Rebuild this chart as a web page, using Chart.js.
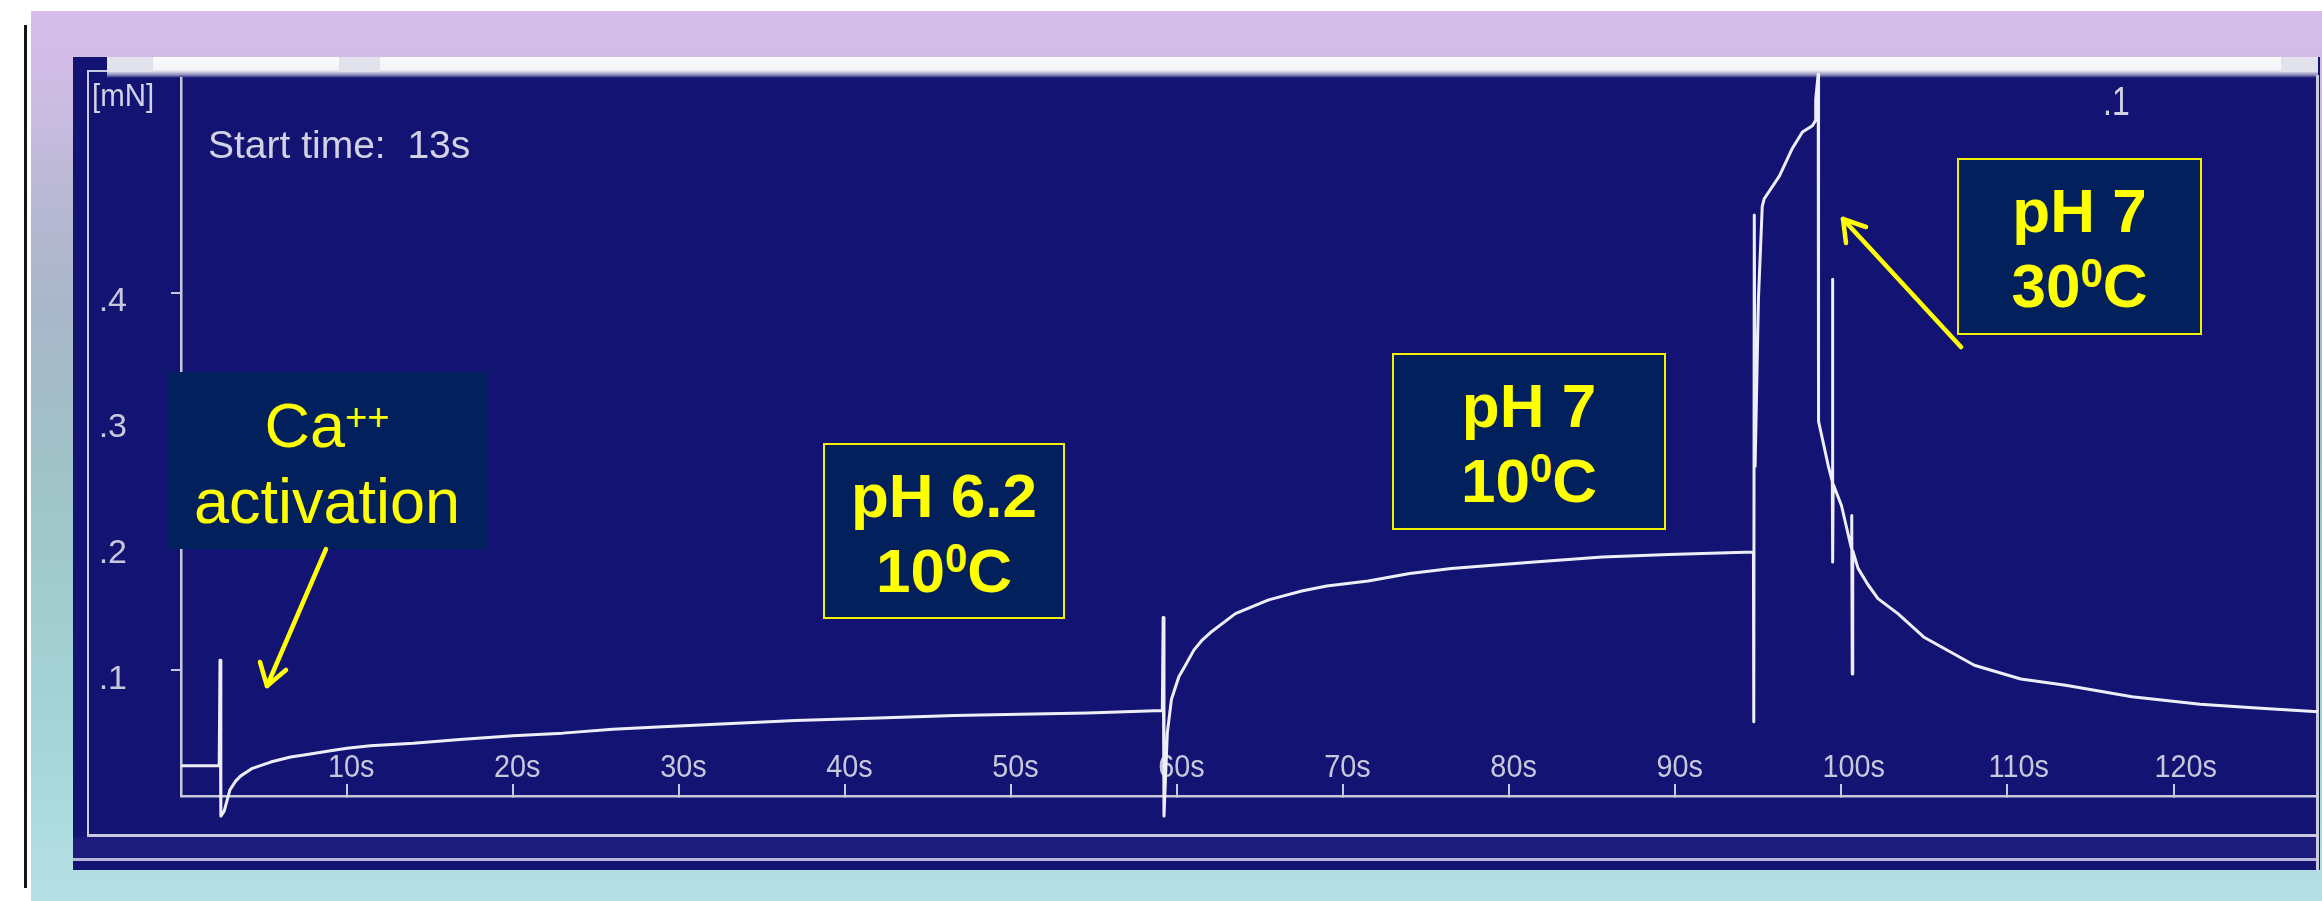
<!DOCTYPE html>
<html>
<head>
<meta charset="utf-8">
<script src="https://cdn.jsdelivr.net/npm/chart.js@4.4.1/dist/chart.umd.min.js"></script>
<style>
  html, body { margin: 0; padding: 0; background: #fff; width: 2322px; height: 901px; overflow: hidden; }
  body { position: relative; font-family: 'Liberation Sans', Arial, sans-serif; }
  .abs { position: absolute; }
  #slide { left: 31px; top: 11px; width: 2291px; height: 890px;
    background: linear-gradient(to bottom, #d6bdea 0%, #d2bde7 6%, #b7b8d2 22%, #a9b7c9 33%, #9fc5c8 55%, #a4d3d5 78%, #b4e0e3 100%); }
  #edge { left: 24px; top: 25px; width: 3px; height: 863px; background: #151515; }
  #panel { left: 73px; top: 57px; width: 2247px; height: 813px; background: #131374; }
  #topbar { left: 107px; top: 57px; width: 2211px; height: 21px;
    background: linear-gradient(to bottom, #fbfbfd 0%, #f4f4f8 62%, #8f8fbd 85%, #131374 100%); }
  .tab { top: 57px; height: 15px; background: #e2e2ec; }
  .fr { background: #c9c9df; }
  #band { left: 73px; top: 837px; width: 2245px; height: 21px; background: #1d1b7b; }
  .mono { color: #d2d2e4; white-space: pre; line-height: 1; }
  .box { box-sizing: border-box; background: #01205c; color: #ffff00; }
  .box.framed { border: 2px solid #f2f200; }
  .ln { position: absolute; left: 0; right: 0; text-align: center; line-height: 1; white-space: nowrap; }
  .b { font-weight: bold; font-size: 62px; }
  .r { font-size: 63px; }
  #chart { left: 0; top: 0; }
</style>
</head>
<body>
<div id="slide" class="abs"></div>
<div id="edge" class="abs"></div>
<div id="panel" class="abs"></div>
<div id="topbar" class="abs"></div>
<div class="abs tab" style="left:107px;width:46px"></div>
<div class="abs tab" style="left:339px;width:41px"></div>
<div class="abs tab" style="left:2281px;width:37px"></div>
<div class="abs fr" style="left:87px;top:70px;width:2px;height:767px"></div>
<div class="abs fr" style="left:87px;top:70px;width:20px;height:2px"></div>
<div class="abs fr" style="left:87px;top:834px;width:2231px;height:3px"></div>
<div id="band" class="abs"></div>
<div class="abs fr" style="left:73px;top:858px;width:2245px;height:3px;background:#b6b6d6"></div>
<div class="abs fr" style="left:2316px;top:75px;width:3px;height:795px"></div>

<canvas id="chart" class="abs" width="2322" height="901"></canvas>

<div class="abs mono" style="left:92px;top:79px;font-size:32px;transform:scaleX(0.92);transform-origin:left top">[mN]</div>
<div class="abs mono" style="left:208px;top:125px;font-size:39px">Start time:  13s</div>
<div class="abs mono" style="left:2103px;top:81px;font-size:40px;transform:scaleX(0.8);transform-origin:left top">.1</div>

<div class="abs box" style="left:167px;top:372px;width:320px;height:177px">
  <div class="ln r" style="top:22px">Ca<span style="font-size:38px;position:relative;top:-17px">++</span></div>
  <div class="ln r" style="top:98px">activation</div>
</div>
<div class="abs box framed" style="left:823px;top:443px;width:242px;height:176px">
  <div class="ln b" style="top:20px">pH 6.2</div>
  <div class="ln b" style="top:95px">10<span style="font-size:40px;position:relative;top:-20px">0</span>C</div>
</div>
<div class="abs box framed" style="left:1392px;top:353px;width:274px;height:177px">
  <div class="ln b" style="top:20px">pH 7</div>
  <div class="ln b" style="top:95px">10<span style="font-size:40px;position:relative;top:-20px">0</span>C</div>
</div>
<div class="abs box framed" style="left:1957px;top:158px;width:245px;height:177px">
  <div class="ln b" style="top:20px">pH 7</div>
  <div class="ln b" style="top:95px">30<span style="font-size:40px;position:relative;top:-20px">0</span>C</div>
</div>

<svg class="abs" style="left:0;top:0" width="2322" height="901">
  <g stroke="#ffff00" stroke-width="4.5" fill="none" stroke-linecap="round" stroke-linejoin="round">
    <line x1="326" y1="549" x2="267" y2="686"/>
    <polyline points="260,662 267,686 286,670"/>
    <line x1="1961" y1="347" x2="1843" y2="219"/>
    <polyline points="1846,243 1843,219 1866,227"/>
  </g>
</svg>

<script>
const timeS = [
  0, 2.3, 2.35, 2.4, 2.6, 2.95, 3.3, 3.6, 4.3, 5.4, 6.6, 7.6, 9.0, 10.0, 11.4, 14.0, 16.8,
  20.0, 23.0, 26.0, 29.0, 32.2, 37.0, 42.0, 46.6, 50.5, 54.6, 59.1,
  59.15, 59.2, 59.4, 59.65, 60.1, 60.45, 61.0, 61.5, 62.0, 63.5, 65.5, 67.5, 69.0,
  71.5, 74.0, 76.5, 81.5, 85.6, 89.6, 94.7,
  94.72, 94.75, 94.8, 95.0, 95.23, 95.35, 96.26, 97.04, 97.65, 98.25, 98.43, 98.45, 98.6, 98.62,
  99.2, 99.45, 99.46, 99.48, 99.5, 100.0, 100.6, 100.62, 100.65, 100.68, 101.0, 101.6, 102.2,
  103.4, 105.0, 108.0, 110.8, 113.5, 117.5, 121.6, 125.0, 128.7
];
const forceMN = [
  0.024, 0.024, 0.108, -0.016, -0.012, 0.005, 0.012, 0.016, 0.022, 0.027, 0.031, 0.033, 0.036, 0.038, 0.040, 0.042, 0.045,
  0.048, 0.050, 0.053, 0.055, 0.057, 0.060, 0.062, 0.064, 0.065, 0.066, 0.068,
  0.142, -0.016, 0.050, 0.077, 0.095, 0.103, 0.116, 0.124, 0.130, 0.145, 0.156, 0.163, 0.167,
  0.171, 0.177, 0.181, 0.186, 0.190, 0.192, 0.194,
  0.059, 0.462, 0.262, 0.395, 0.469, 0.475, 0.493, 0.515, 0.528, 0.533, 0.537, 0.554, 0.574, 0.298,
  0.263, 0.250, 0.411, 0.186, 0.248, 0.231, 0.197, 0.223, 0.097, 0.195, 0.181, 0.168, 0.157,
  0.145, 0.126, 0.104, 0.093, 0.088, 0.079, 0.073, 0.070, 0.067
];

// Marcas de los ejes
const xTickValues = [10, 20, 30, 40, 50, 60, 70, 80, 90, 100, 110, 120];
const yTickValues = [0.1, 0.2, 0.3, 0.4];
const xRange = [0, 128.7];
const yRange = [0, 0.571];

const axisColor = '#c8c8dc';
const isXTick = v => xTickValues.some(t => Math.abs(t - v) < 1e-6);
const isYTick = v => yTickValues.some(t => Math.abs(t - v) < 1e-6);

const ctx = document.getElementById('chart').getContext('2d');

// Las etiquetas del eje X del registro original son algo estrechas: se comprimen al dibujarlas
const narrowFactor = 0.9;
const baseFillText = ctx.fillText.bind(ctx);
ctx.fillText = function (text, x, y, maxWidth) {
  if (typeof text === 'string' && /^\d+s$/.test(text)) {
    return baseFillText(text, x, y, this.measureText(text).width * narrowFactor);
  }
  return maxWidth === undefined ? baseFillText(text, x, y) : baseFillText(text, x, y, maxWidth);
};

const chart = new Chart(ctx, {
  type: 'line',
  data: {
    datasets: [{
      data: timeS.map((t, i) => ({ x: t, y: forceMN[i] })),
      borderColor: '#eeeef8',
      borderWidth: 3,
      pointRadius: 0,
      tension: 0,
      clip: false,
      borderJoinStyle: 'round'
    }]
  },
  options: {
    responsive: false,
    animation: false,
    events: [],
    layout: { padding: { left: 0, top: 78, right: 4, bottom: 105 } },
    plugins: { legend: { display: false }, tooltip: { enabled: false } },
    scales: {
      x: {
        type: 'linear',
        position: 'bottom',
        min: xRange[0],
        max: xRange[1],
        afterFit: s => { s.height = 0; },
        border: { display: true, color: axisColor, width: 2.5 },
        grid: {
          drawOnChartArea: false,
          drawTicks: true,
          tickLength: -12,
          lineWidth: 2,
          color: c => (c.tick && isXTick(c.tick.value)) ? axisColor : 'rgba(0,0,0,0)'
        },
        ticks: {
          stepSize: 10,
          includeBounds: false,
          autoSkip: false,
          maxRotation: 0,
          mirror: true,
          align: 'start',
          labelOffset: -19,
          padding: 12,
          color: axisColor,
          font: { family: "'Liberation Sans', sans-serif", size: 32, lineHeight: 1 },
          callback: v => isXTick(v) ? v + 's' : null
        }
      },
      y: {
        type: 'linear',
        position: 'left',
        min: yRange[0],
        max: yRange[1],
        afterFit: s => { s.width = 181; },
        border: { display: true, color: axisColor, width: 2.5 },
        grid: {
          drawOnChartArea: false,
          drawTicks: true,
          tickLength: 10,
          lineWidth: 2,
          color: c => (c.tick && isYTick(c.tick.value)) ? axisColor : 'rgba(0,0,0,0)'
        },
        ticks: {
          stepSize: 0.1,
          includeBounds: false,
          padding: 44,
          labelOffset: 9,
          color: axisColor,
          font: { family: "'Liberation Sans', sans-serif", size: 34, lineHeight: 1 },
          callback: v => isYTick(v) ? '.' + Math.round(v * 10) : null
        }
      }
    }
  }
});
</script>
</body>
</html>
